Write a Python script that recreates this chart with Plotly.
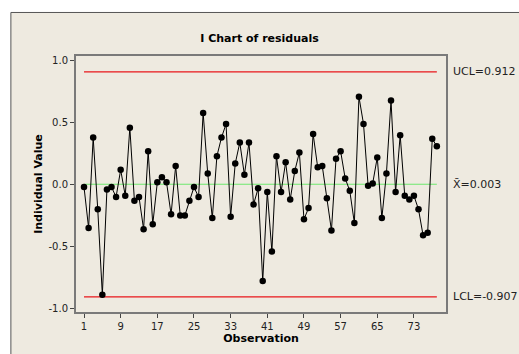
import plotly.graph_objects as go

observations = list(range(1, 79))
residuals = [
    -0.02, -0.35, 0.38, -0.20, -0.89, -0.04, -0.02, -0.10, 0.12, -0.09,
    0.46, -0.13, -0.10, -0.36, 0.27, -0.32, 0.02, 0.06, 0.02, -0.24,
    0.15, -0.25, -0.25, -0.13, -0.02, -0.10, 0.58, 0.09, -0.27, 0.23,
    0.38, 0.49, -0.26, 0.17, 0.34, 0.08, 0.34, -0.16, -0.03, -0.78,
    -0.06, -0.54, 0.23, -0.06, 0.18, -0.12, 0.11, 0.26, -0.28, -0.19,
    0.41, 0.14, 0.15, -0.11, -0.37, 0.21, 0.27, 0.05, -0.05, -0.31,
    0.71, 0.49, -0.01, 0.01, 0.22, -0.27, 0.09, 0.68, -0.06, 0.40,
    -0.09, -0.12, -0.09, -0.20, -0.41, -0.39, 0.37, 0.31,
]
ucl = 0.912
center = 0.003
lcl = -0.907
x_ticks = [1, 9, 17, 25, 33, 41, 49, 57, 65, 73]
y_ticks = [-1.0, -0.5, 0.0, 0.5, 1.0]
y_tick_labels = ["-1.0", "-0.5", "0.0", "0.5", "1.0"]

FONT = "DejaVu Sans"
x_span = [observations[0], observations[-1]]

fig = go.Figure()
for val, col in [(ucl, "#E8161B"), (lcl, "#E8161B"), (center, "#6EE86E")]:
    fig.add_trace(go.Scatter(x=x_span, y=[val, val], mode="lines",
                             line=dict(color=col, width=1.2),
                             hoverinfo="skip", showlegend=False))

fig.add_trace(go.Scatter(
    x=observations, y=residuals, mode="lines+markers",
    line=dict(color="black", width=1),
    marker=dict(color="black", size=6.5),
    showlegend=False,
))

# background frame
fig.add_shape(type="rect", xref="paper", yref="paper",
              x0=-0.176, x1=1.25, y0=-0.3, y1=1.17,
              fillcolor="#EEEAE0", line=dict(color="#555555", width=1),
              layer="below")

for val, txt in [(ucl, "UCL=0.912"), (center, "X̄=0.003"), (lcl, "LCL=-0.907")]:
    fig.add_annotation(x=1.0, xref="paper", y=val, yref="y",
                       text=txt, showarrow=False, xanchor="left",
                       xshift=5, font=dict(family=FONT, size=11, color="#222"))

fig.update_layout(
    width=519, height=354,
    margin=dict(l=76, r=73, t=56, b=42),
    paper_bgcolor="white",
    plot_bgcolor="white",
    title=dict(text="<b>I Chart of residuals</b>", x=0.5, xanchor="center",
               y=1 - 38 / 354, yanchor="middle",
               font=dict(family=FONT, size=11, color="black")),
    font=dict(family=FONT, size=10, color="#222"),
    xaxis=dict(range=[-0.75, 80], tickvals=x_ticks, ticks="outside", ticklen=4,
               tickcolor="#444", showgrid=False, zeroline=False,
               showline=True, mirror=True, linecolor="#7a7a7a", linewidth=2,
               title=dict(text="<b>Observation</b>", standoff=2,
                          font=dict(family=FONT, size=11, color="black")),
               tickfont=dict(family=FONT, size=10, color="#222")),
    yaxis=dict(range=[-1.03, 1.04], tickvals=y_ticks, ticktext=y_tick_labels,
               ticks="outside", ticklen=4, tickcolor="#444",
               showgrid=False, zeroline=False,
               showline=True, mirror=True, linecolor="#7a7a7a", linewidth=2,
               title=dict(text="<b>Individual Value</b>", standoff=4,
                          font=dict(family=FONT, size=11, color="black")),
               tickfont=dict(family=FONT, size=10, color="#222")),
)

fig.write_html("out.html",
               config={"displayModeBar": False},
               post_script="document.body.style.margin='0';document.body.style.overflow='hidden';")
